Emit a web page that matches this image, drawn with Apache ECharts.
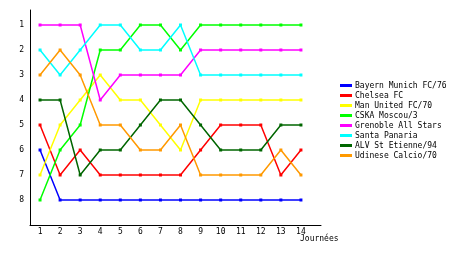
<!DOCTYPE html>
<html>
<head>
<meta charset="utf-8">
<script src="https://cdn.jsdelivr.net/npm/echarts@6/dist/echarts.min.js"></script>
<style>html,body{margin:0;padding:0;background:#fff}#c{width:460px;height:255px}</style>
</head>
<body>
<div id="c"></div>
<script>
const journees = [1,2,3,4,5,6,7,8,9,10,11,12,13,14];
const rankTicks = [1,2,3,4,5,6,7,8];
const teams = ["Bayern Munich FC/76","Chelsea FC","Man United FC/70","CSKA Moscou/3","Grenoble All Stars","Santa Panaria","ALV St Etienne/94","Udinese Calcio/70"];
const colors = ["#0000ff","#ff0000","#ffff00","#00ff00","#ff00ff","#00ffff","#006600","#ff9900"];
const bayern   = [6,8,8,8,8,8,8,8,8,8,8,8,8,8];
const chelsea  = [5,7,6,7,7,7,7,7,6,5,5,5,7,6];
const manutd   = [7,5,4,3,4,4,5,6,4,4,4,4,4,4];
const cska     = [8,6,5,2,2,1,1,2,1,1,1,1,1,1];
const grenoble = [1,1,1,4,3,3,3,3,2,2,2,2,2,2];
const santa    = [2,3,2,1,1,2,2,1,3,3,3,3,3,3];
const alv      = [4,4,7,6,6,5,4,4,5,6,6,6,5,5];
const udinese  = [3,2,3,5,5,6,6,5,7,7,7,7,6,7];
const allData = [bayern,chelsea,manutd,cska,grenoble,santa,alv,udinese];

const font = "DejaVu Sans Mono";
const chart = echarts.init(document.getElementById('c'), null, {renderer:'canvas'});
chart.setOption({
  animation:false,
  backgroundColor:'#fff',
  grid:{left:30, top:10, right:139, bottom:30},
  legend:{
    orient:'vertical', left:340, top:81, padding:0,
    itemWidth:12, itemHeight:3, itemGap:1,
    icon:'rect',
    textStyle:{fontFamily:font, fontSize:8, color:'#000', lineHeight:9, padding:[0,0,0,-2]},
    data:teams
  },
  xAxis:{
    type:'value', min:0.5, max:15,
    axisLine:{lineStyle:{color:'#000', width:1}},
    axisTick:{show:false},
    splitLine:{show:false},
    axisLabel:{customValues:journees, fontFamily:font, fontSize:8, color:'#000', margin:3}
  },
  yAxis:{
    type:'value', inverse:true, min:0.4, max:9,
    axisLine:{show:true, lineStyle:{color:'#000', width:1}},
    axisTick:{show:false},
    splitLine:{show:false},
    axisLabel:{customValues:rankTicks, fontFamily:font, fontSize:8, color:'#000', margin:6}
  },
  graphic:[{type:'text', left:300, top:235, style:{text:'Journées', font:'8px "DejaVu Sans Mono"', fill:'#000'}}],
  series: teams.map((name,i)=>({
    name, type:'line', color:colors[i],
    data: allData[i].map((v,j)=>[journees[j], v]),
    symbol:'rect', symbolSize:3, showSymbol:true,
    lineStyle:{width:1.5, color:colors[i]},
    itemStyle:{color:colors[i]}
  }))
});
</script>
</body>
</html>
